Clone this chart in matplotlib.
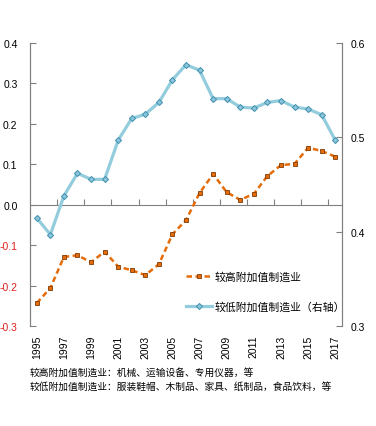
import matplotlib
matplotlib.use('Agg')
import matplotlib.pyplot as plt

# Data
years = list(range(1995, 2018))
higher_value = [-0.243, -0.206, -0.129, -0.125, -0.142, -0.116, -0.153, -0.162,
                -0.174, -0.147, -0.073, -0.038, 0.029, 0.076, 0.031, 0.012,
                0.027, 0.071, 0.098, 0.101, 0.141, 0.133, 0.119]
lower_value = [0.4145, 0.397, 0.438, 0.462, 0.4555, 0.4555, 0.497, 0.520,
               0.5245, 0.537, 0.561, 0.577, 0.571, 0.541, 0.541, 0.532,
               0.531, 0.537, 0.539, 0.532, 0.530, 0.524, 0.497]
left_ticks = [-0.3, -0.2, -0.1, 0.0, 0.1, 0.2, 0.3, 0.4]
right_ticks = [0.3, 0.4, 0.5, 0.6]
label_high = '较高附加值制造业'
label_low = '较低附加值制造业（右轴）'
note_lines = ['较高附加值制造业：机械、运输设备、专用仪器，等',
              '较低附加值制造业：服装鞋帽、木制品、家具、纸制品，食品饮料，等']

plt.rcParams['font.family'] = ['Liberation Sans', 'Noto Sans CJK SC']
cjk = ['Noto Sans CJK SC', 'DejaVu Sans']
axis_grey = '#808080'

fig = plt.figure(figsize=(3.76, 4.27), dpi=100)
ax = fig.add_axes([0.0798, 0.234, 0.8298, 0.663])
ax2 = ax.twinx()

x = list(range(len(years)))

# orange dashed series on left axis
l1, = ax.plot(x, higher_value, color='#E46C0A', lw=1.8, ls=(0, (2.2, 1.4)),
              marker='s', ms=3.5, mfc='#E46C0A', mec='#7F3A05', mew=0.6,
              label=label_high)
# blue series on right axis
l2, = ax2.plot(x, lower_value, color='#93CDDD', lw=2.3, marker='D', ms=3.1,
               mfc='#8CC6DA', mec='#3E8FAF', mew=0.7, label=label_low)

ax.set_xlim(-0.5, len(years) - 0.5)
ax.set_ylim(-0.3, 0.4)
ax2.set_ylim(0.3, 0.6)
ax.set_yticks(left_ticks)
ax.set_yticklabels(['%.1f' % v for v in left_ticks])
ax2.set_yticks(right_ticks)
ax2.set_yticklabels(['%.1f' % v for v in right_ticks])

for a in (ax, ax2):
    a.spines['top'].set_visible(False)
    a.spines['bottom'].set_visible(False)
    a.spines['left'].set_color(axis_grey)
    a.spines['right'].set_color(axis_grey)

ax.tick_params(axis='y', direction='in', length=4, color=axis_grey,
               labelsize=7.5, pad=9)
ax2.tick_params(axis='y', direction='in', length=4, color=axis_grey,
                labelsize=7.5, pad=6)
for lab, v in zip(ax.get_yticklabels(), left_ticks):
    if v < 0:
        lab.set_color('#E0201B')

# year labels at the bottom, every other year
ax.set_xticks(x[::2])
ax.set_xticklabels([str(y) for y in years[::2]], rotation=90, fontsize=7.5)
ax.tick_params(axis='x', length=0, pad=6)

# horizontal axis line at zero with inward ticks between categories
zero_pos = 0.3 / 0.7
sec = ax.secondary_xaxis(zero_pos)
sec.spines['bottom'].set_color(axis_grey)
sec.spines['bottom'].set_linewidth(0.8)
sec.set_xticks([k - 0.5 for k in range(2, len(years), 2)])
sec.set_xticklabels([])
sec.tick_params(axis='x', direction='in', length=4, color=axis_grey)

ax.legend(handles=[l1, l2], loc='upper left', bbox_to_anchor=(0.485, 0.21),
          frameon=False, prop={'family': cjk, 'size': 7.8},
          handlelength=2.4, handletextpad=0.3, labelspacing=1.8,
          borderaxespad=0)

fig.text(0.08, 0.128, note_lines[0], family=cjk, fontsize=7, va='center')
fig.text(0.08, 0.095, note_lines[1], family=cjk, fontsize=7, va='center')

fig.savefig('out.png', dpi=100)
